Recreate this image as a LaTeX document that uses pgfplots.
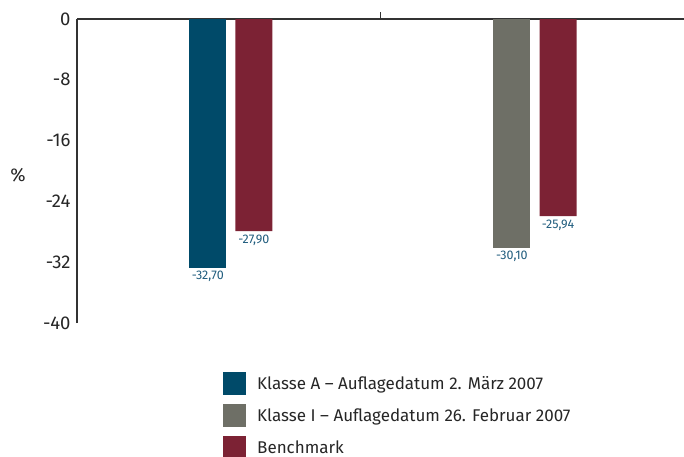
\documentclass[border=0pt]{standalone}
\usepackage{fontspec}
\setmainfont{Fira Sans}
\usepackage{pgfplots}
\pgfplotsset{compat=1.18}
\definecolor{klA}{HTML}{004A69}
\definecolor{klI}{HTML}{6E6F66}
\definecolor{bench}{HTML}{7C2234}
\definecolor{lbl}{HTML}{1F5C7D}
\definecolor{axc}{HTML}{333333}
\begin{document}
\begin{tikzpicture}[x=1pt,y=1pt]
\path[use as bounding box] (-77,-133) rectangle (607,323);
\begin{axis}[
  at={(0,0)}, anchor=south west,
  scale only axis, width=607pt, height=304pt,
  xmin=0, xmax=2, ymin=-40, ymax=0,
  axis x line*=top, axis y line*=left,
  axis line style={line width=2.7pt, color=axc},
  xtick={1}, xticklabels={},
  x tick style={line width=1.6pt, color=axc},
  major tick length=7pt, tick align=inside,
  ytick={-40,-32,-24,-16,-8,0},
  y tick style={draw=none},
  yticklabel style={font=\fontsize{18.5}{20}\selectfont, color=black!85, xshift=-3pt},
  /pgf/number format/assume math mode=true,
  ybar, bar width=37pt,
  nodes near coords,
  nodes near coords style={font=\fontsize{12.5}{14}\selectfont, color=lbl, /pgf/number format/.cd, fixed, fixed zerofill, precision=2, use comma, assume math mode=true},
  legend image code/.code={\fill[#1] (0pt,-11.5pt) rectangle (23pt,11.5pt);},
  legend style={at={(axis description cs:0.2405,-0.161)}, anchor=north west, draw=none, fill=none, inner sep=0pt, row sep=9pt, column sep=11pt, font=\fontsize{17}{19}\selectfont, text=black!85, nodes={inner sep=0pt}},
  legend cell align=left,
]
\addplot[bar shift=0pt, fill=klA, draw=none] coordinates {(0.431,-32.70)};
\addplot[bar shift=0pt, fill=klI, draw=none] coordinates {(1.433,-30.10)};
\addplot[bar shift=0pt, fill=bench, draw=none] coordinates {(0.583,-27.90) (1.585,-25.94)};
\legend{Klasse A – Auflagedatum 2. März 2007, Klasse I – Auflagedatum 26. Februar 2007, Benchmark}
\end{axis}
\node[font=\fontsize{18.5}{20}\selectfont, color=black!85] at (-59,148) {\%};
\end{tikzpicture}
\end{document}
